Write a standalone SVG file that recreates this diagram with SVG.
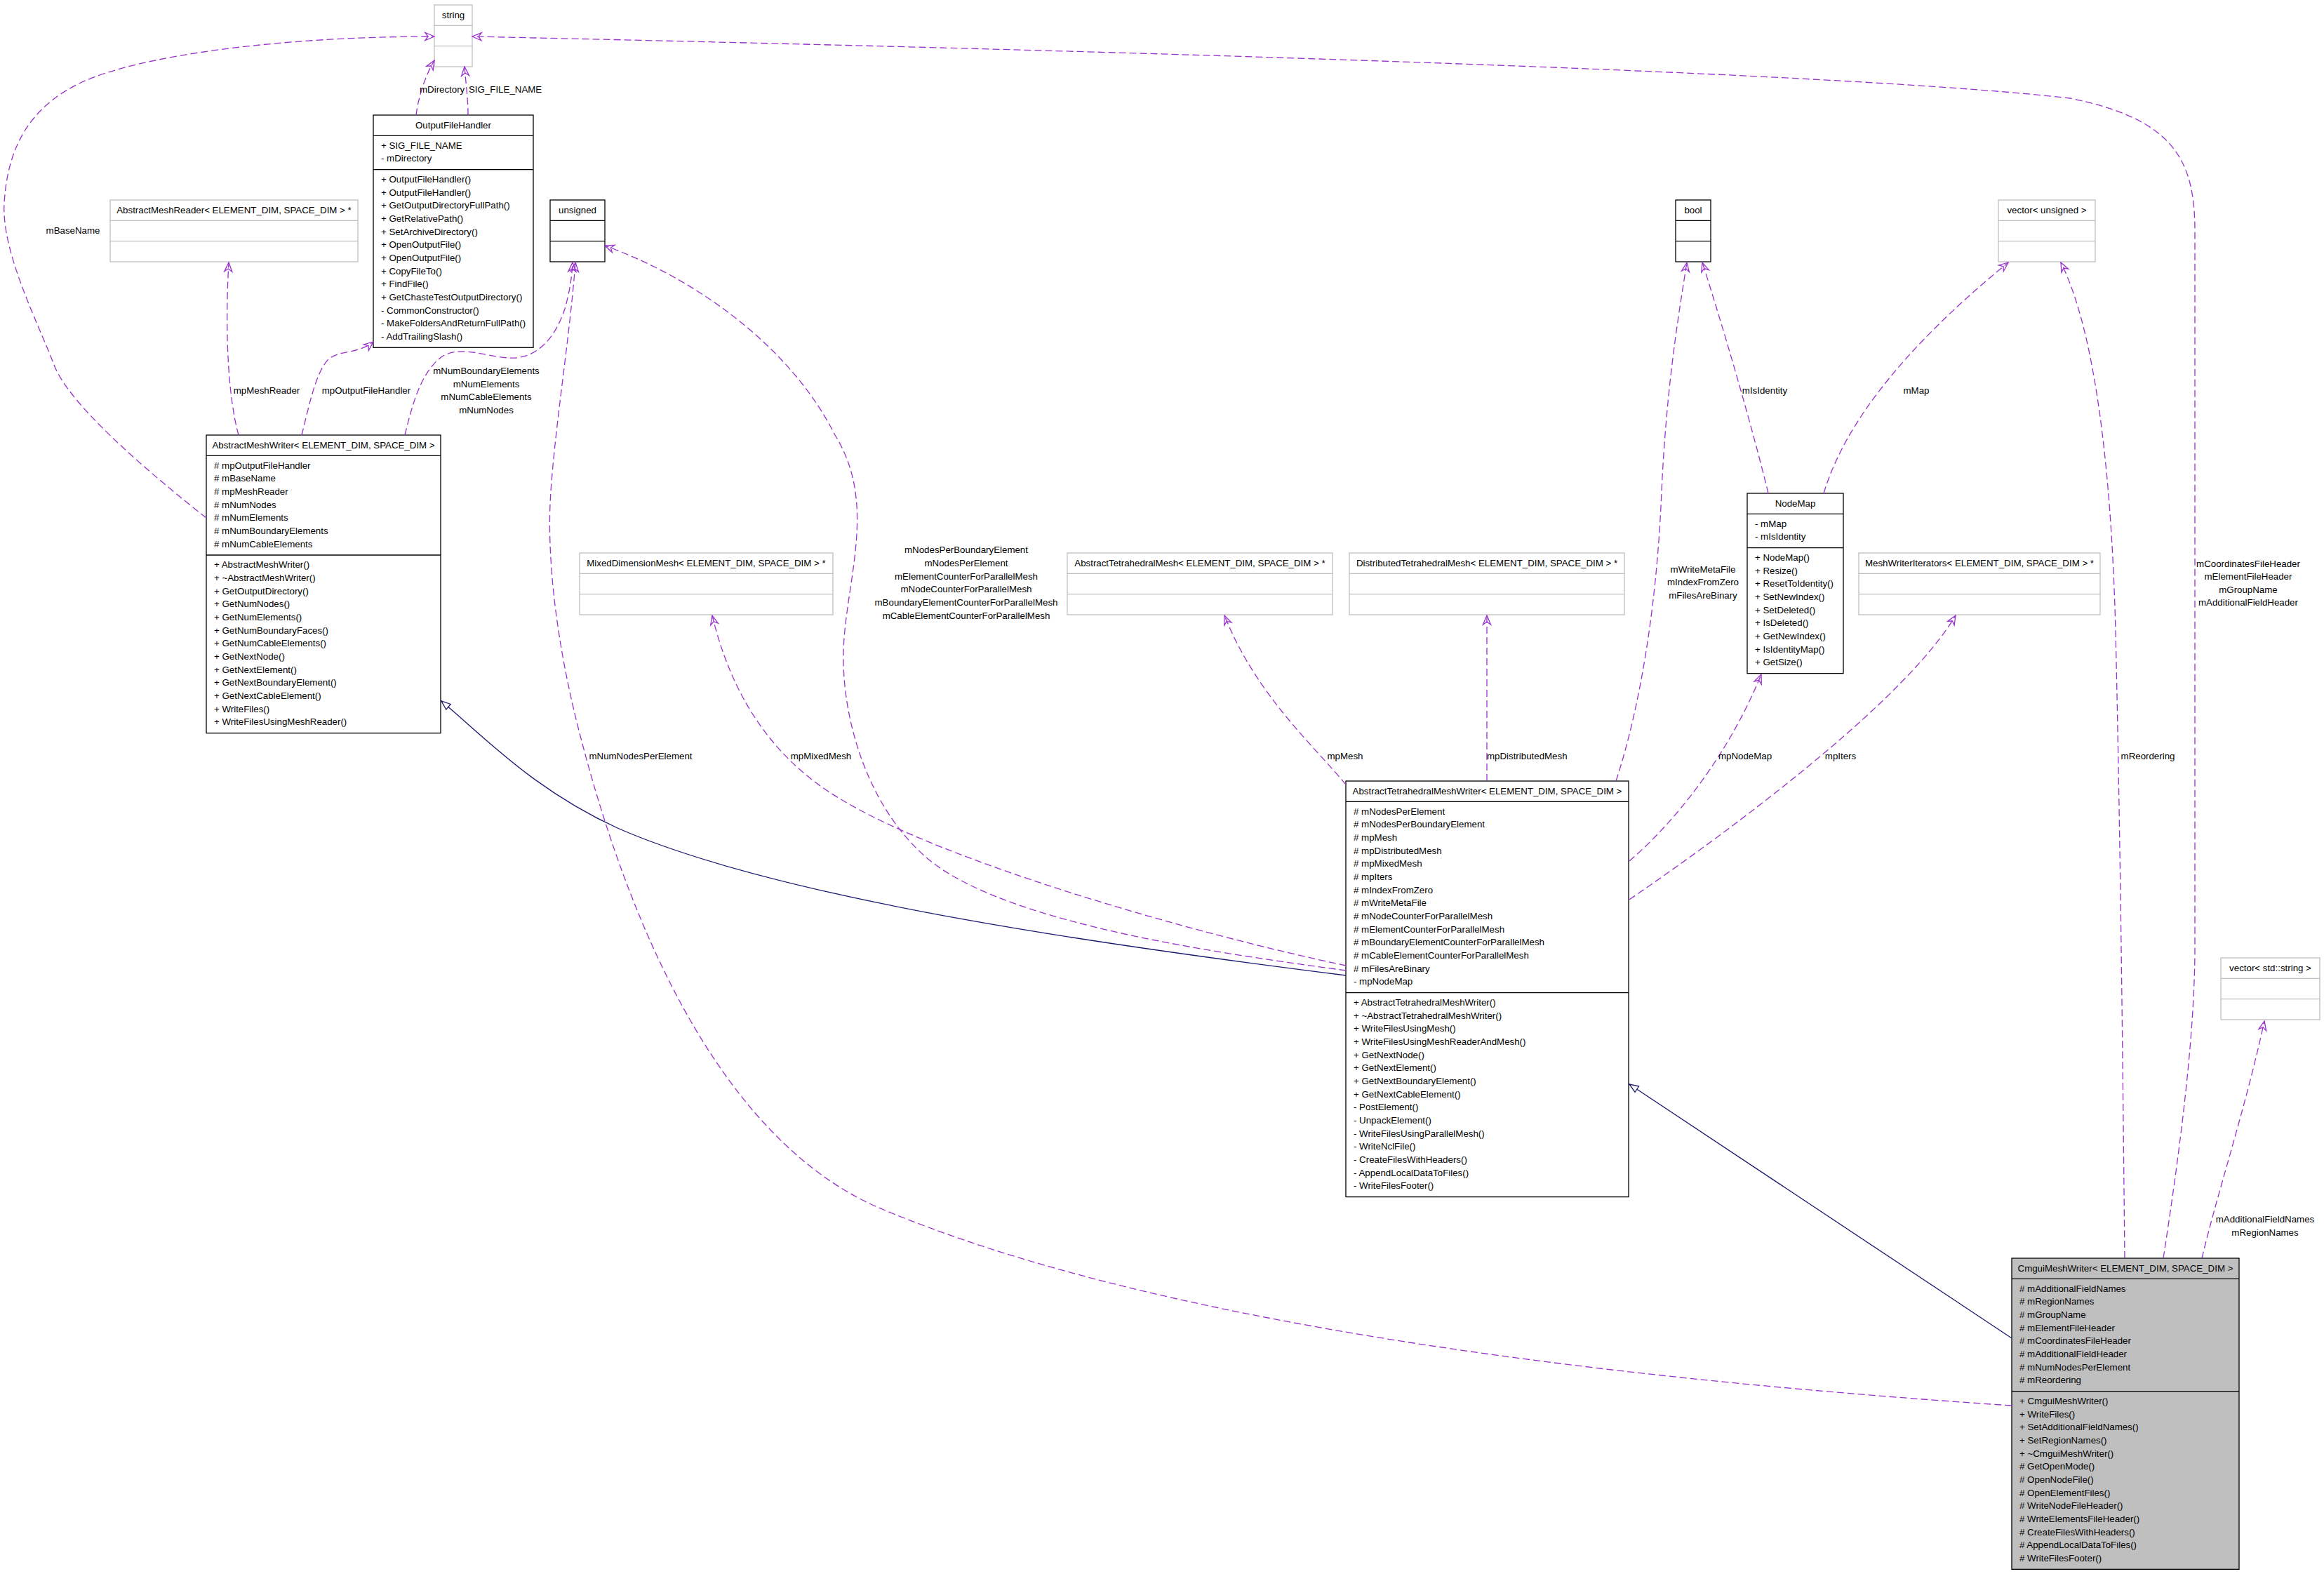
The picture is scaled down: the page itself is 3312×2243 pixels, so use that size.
<svg xmlns="http://www.w3.org/2000/svg" width="3312" height="2243" viewBox="0 0 3312 2243">
<style>
text{font-family:"Liberation Sans",Arial,Helvetica,sans-serif;font-size:13.3px;fill:#000}
.c{text-anchor:middle}
.bk rect{fill:#fff;stroke:#000;stroke-width:1.3}
.bk line{stroke:#000;stroke-width:1.3}
.gr rect{fill:#fff;stroke:#bfbfbf;stroke-width:1.3}
.gr line{stroke:#bfbfbf;stroke-width:1.3}
.cur rect{fill:#bfbfbf;stroke:#000;stroke-width:1.3}
.cur line{stroke:#000;stroke-width:1.3}
.e{fill:none;stroke:#9a32cd;stroke-width:1.3;stroke-dasharray:10,5;marker-end:url(#open)}
.g{fill:none;stroke:#191970;stroke-width:1.3;marker-end:url(#tri)}
</style>
<defs>
<marker id="open" viewBox="-15 -8 17 16" refX="0" refY="0" markerWidth="17" markerHeight="16" markerUnits="userSpaceOnUse" orient="auto">
<path d="M0,0 L-13,-5.5 L-9,0 L-13,5.5 Z" fill="none" stroke="#9a32cd" stroke-width="1.3"/>
</marker>
<marker id="tri" viewBox="-15 -8 17 16" refX="0" refY="0" markerWidth="17" markerHeight="16" markerUnits="userSpaceOnUse" orient="auto">
<path d="M0,0 L-13,-5 L-13,5 Z" fill="#fff" stroke="#191970" stroke-width="1.3"/>
</marker>
</defs>
<rect x="0" y="0" width="3312" height="2243" fill="#fff"/>

<g id="string" class="gr">
<rect x="619" y="7" width="54" height="88"/>
<line x1="619" y1="36.3" x2="673" y2="36.3"/><line x1="619" y1="65.6" x2="673" y2="65.6"/>
<text class="c" x="646" y="25.5">string</text>
</g>

<g id="OutputFileHandler" class="bk">
<rect x="532" y="164" width="228" height="331.3"/>
<line x1="532" y1="193.3" x2="760" y2="193.3"/><line x1="532" y1="241.6" x2="760" y2="241.6"/>
<text class="c" x="646" y="182.5">OutputFileHandler</text>
<text x="543" y="211.6">+ SIG_FILE_NAME</text>
<text x="543" y="230.3">- mDirectory</text>
<text x="543" y="259.9">+ OutputFileHandler()</text>
<text x="543" y="278.6">+ OutputFileHandler()</text>
<text x="543" y="297.2">+ GetOutputDirectoryFullPath()</text>
<text x="543" y="315.9">+ GetRelativePath()</text>
<text x="543" y="334.6">+ SetArchiveDirectory()</text>
<text x="543" y="353.2">+ OpenOutputFile()</text>
<text x="543" y="371.9">+ OpenOutputFile()</text>
<text x="543" y="390.6">+ CopyFileTo()</text>
<text x="543" y="409.2">+ FindFile()</text>
<text x="543" y="427.9">+ GetChasteTestOutputDirectory()</text>
<text x="543" y="446.6">- CommonConstructor()</text>
<text x="543" y="465.2">- MakeFoldersAndReturnFullPath()</text>
<text x="543" y="483.9">- AddTrailingSlash()</text>
</g>

<g id="AbstractMeshReader" class="gr">
<rect x="157" y="285" width="353" height="88"/>
<line x1="157" y1="314.3" x2="510" y2="314.3"/><line x1="157" y1="343.6" x2="510" y2="343.6"/>
<text class="c" x="333.5" y="303.5">AbstractMeshReader&lt; ELEMENT_DIM, SPACE_DIM &gt; *</text>
</g>

<g id="unsigned" class="bk">
<rect x="784" y="285" width="78" height="88"/>
<line x1="784" y1="314.3" x2="862" y2="314.3"/><line x1="784" y1="343.6" x2="862" y2="343.6"/>
<text class="c" x="823" y="303.5">unsigned</text>
</g>

<g id="bool" class="bk">
<rect x="2388" y="285" width="50" height="88"/>
<line x1="2388" y1="314.3" x2="2438" y2="314.3"/><line x1="2388" y1="343.6" x2="2438" y2="343.6"/>
<text class="c" x="2413" y="303.5">bool</text>
</g>

<g id="vector_unsigned" class="gr">
<rect x="2848" y="285" width="138" height="88"/>
<line x1="2848" y1="314.3" x2="2986" y2="314.3"/><line x1="2848" y1="343.6" x2="2986" y2="343.6"/>
<text class="c" x="2917" y="303.5">vector&lt; unsigned &gt;</text>
</g>

<g id="MixedDimensionMesh" class="gr">
<rect x="826" y="788" width="361" height="88"/>
<line x1="826" y1="817.3" x2="1187" y2="817.3"/><line x1="826" y1="846.6" x2="1187" y2="846.6"/>
<text class="c" x="1006.5" y="806.5">MixedDimensionMesh&lt; ELEMENT_DIM, SPACE_DIM &gt; *</text>
</g>

<g id="AbstractTetrahedralMesh" class="gr">
<rect x="1521" y="788" width="378" height="88"/>
<line x1="1521" y1="817.3" x2="1899" y2="817.3"/><line x1="1521" y1="846.6" x2="1899" y2="846.6"/>
<text class="c" x="1710" y="806.5">AbstractTetrahedralMesh&lt; ELEMENT_DIM, SPACE_DIM &gt; *</text>
</g>

<g id="DistributedTetrahedralMesh" class="gr">
<rect x="1923" y="788" width="392" height="88"/>
<line x1="1923" y1="817.3" x2="2315" y2="817.3"/><line x1="1923" y1="846.6" x2="2315" y2="846.6"/>
<text class="c" x="2119" y="806.5">DistributedTetrahedralMesh&lt; ELEMENT_DIM, SPACE_DIM &gt; *</text>
</g>

<g id="MeshWriterIterators" class="gr">
<rect x="2649" y="788" width="344" height="88"/>
<line x1="2649" y1="817.3" x2="2993" y2="817.3"/><line x1="2649" y1="846.6" x2="2993" y2="846.6"/>
<text class="c" x="2821" y="806.5">MeshWriterIterators&lt; ELEMENT_DIM, SPACE_DIM &gt; *</text>
</g>

<g id="vector_std_string" class="gr">
<rect x="3165" y="1365" width="141" height="88"/>
<line x1="3165" y1="1394.3" x2="3306" y2="1394.3"/><line x1="3165" y1="1423.6" x2="3306" y2="1423.6"/>
<text class="c" x="3235.5" y="1383.5">vector&lt; std::string &gt;</text>
</g>

<g id="NodeMap" class="bk">
<rect x="2490" y="703" width="137" height="256.6"/>
<line x1="2490" y1="732.3" x2="2627" y2="732.3"/><line x1="2490" y1="780.6" x2="2627" y2="780.6"/>
<text class="c" x="2558.5" y="721.5">NodeMap</text>
<text x="2501" y="750.6">- mMap</text>
<text x="2501" y="769.3">- mIsIdentity</text>
<text x="2501" y="798.9">+ NodeMap()</text>
<text x="2501" y="817.6">+ Resize()</text>
<text x="2501" y="836.2">+ ResetToIdentity()</text>
<text x="2501" y="854.9">+ SetNewIndex()</text>
<text x="2501" y="873.6">+ SetDeleted()</text>
<text x="2501" y="892.2">+ IsDeleted()</text>
<text x="2501" y="910.9">+ GetNewIndex()</text>
<text x="2501" y="929.6">+ IsIdentityMap()</text>
<text x="2501" y="948.2">+ GetSize()</text>
</g>

<g id="AbstractMeshWriter" class="bk">
<rect x="294" y="620" width="334" height="424.7"/>
<line x1="294" y1="649.3" x2="628" y2="649.3"/><line x1="294" y1="791" x2="628" y2="791"/>
<text class="c" x="461" y="638.5">AbstractMeshWriter&lt; ELEMENT_DIM, SPACE_DIM &gt;</text>
<text x="305" y="667.6"># mpOutputFileHandler</text>
<text x="305" y="686.3"># mBaseName</text>
<text x="305" y="704.9"># mpMeshReader</text>
<text x="305" y="723.6"># mNumNodes</text>
<text x="305" y="742.3"># mNumElements</text>
<text x="305" y="760.9"># mNumBoundaryElements</text>
<text x="305" y="779.6"># mNumCableElements</text>
<text x="305" y="809.3">+ AbstractMeshWriter()</text>
<text x="305" y="828.0">+ ~AbstractMeshWriter()</text>
<text x="305" y="846.6">+ GetOutputDirectory()</text>
<text x="305" y="865.3">+ GetNumNodes()</text>
<text x="305" y="884.0">+ GetNumElements()</text>
<text x="305" y="902.6">+ GetNumBoundaryFaces()</text>
<text x="305" y="921.3">+ GetNumCableElements()</text>
<text x="305" y="940.0">+ GetNextNode()</text>
<text x="305" y="958.6">+ GetNextElement()</text>
<text x="305" y="977.3">+ GetNextBoundaryElement()</text>
<text x="305" y="996.0">+ GetNextCableElement()</text>
<text x="305" y="1014.6">+ WriteFiles()</text>
<text x="305" y="1033.3">+ WriteFilesUsingMeshReader()</text>
</g>

<g id="AbstractTetrahedralMeshWriter" class="bk">
<rect x="1918" y="1113" width="403" height="592.6"/>
<line x1="1918" y1="1142.3" x2="2321" y2="1142.3"/><line x1="1918" y1="1414.6" x2="2321" y2="1414.6"/>
<text class="c" x="2119.5" y="1131.5">AbstractTetrahedralMeshWriter&lt; ELEMENT_DIM, SPACE_DIM &gt;</text>
<text x="1929" y="1160.6"># mNodesPerElement</text>
<text x="1929" y="1179.3"># mNodesPerBoundaryElement</text>
<text x="1929" y="1197.9"># mpMesh</text>
<text x="1929" y="1216.6"># mpDistributedMesh</text>
<text x="1929" y="1235.3"># mpMixedMesh</text>
<text x="1929" y="1253.9"># mpIters</text>
<text x="1929" y="1272.6"># mIndexFromZero</text>
<text x="1929" y="1291.3"># mWriteMetaFile</text>
<text x="1929" y="1309.9"># mNodeCounterForParallelMesh</text>
<text x="1929" y="1328.6"># mElementCounterForParallelMesh</text>
<text x="1929" y="1347.3"># mBoundaryElementCounterForParallelMesh</text>
<text x="1929" y="1365.9"># mCableElementCounterForParallelMesh</text>
<text x="1929" y="1384.6"># mFilesAreBinary</text>
<text x="1929" y="1403.3">- mpNodeMap</text>
<text x="1929" y="1432.9">+ AbstractTetrahedralMeshWriter()</text>
<text x="1929" y="1451.6">+ ~AbstractTetrahedralMeshWriter()</text>
<text x="1929" y="1470.2">+ WriteFilesUsingMesh()</text>
<text x="1929" y="1488.9">+ WriteFilesUsingMeshReaderAndMesh()</text>
<text x="1929" y="1507.6">+ GetNextNode()</text>
<text x="1929" y="1526.2">+ GetNextElement()</text>
<text x="1929" y="1544.9">+ GetNextBoundaryElement()</text>
<text x="1929" y="1563.6">+ GetNextCableElement()</text>
<text x="1929" y="1582.2">- PostElement()</text>
<text x="1929" y="1600.9">- UnpackElement()</text>
<text x="1929" y="1619.6">- WriteFilesUsingParallelMesh()</text>
<text x="1929" y="1638.2">- WriteNclFile()</text>
<text x="1929" y="1656.9">- CreateFilesWithHeaders()</text>
<text x="1929" y="1675.6">- AppendLocalDataToFiles()</text>
<text x="1929" y="1694.2">- WriteFilesFooter()</text>
</g>

<g id="CmguiMeshWriter" class="cur">
<rect x="2867" y="1793" width="324" height="443.3"/>
<line x1="2867" y1="1822.3" x2="3191" y2="1822.3"/><line x1="2867" y1="1982.6" x2="3191" y2="1982.6"/>
<text class="c" x="3029" y="1811.5">CmguiMeshWriter&lt; ELEMENT_DIM, SPACE_DIM &gt;</text>
<text x="2878" y="1840.6"># mAdditionalFieldNames</text>
<text x="2878" y="1859.3"># mRegionNames</text>
<text x="2878" y="1877.9"># mGroupName</text>
<text x="2878" y="1896.6"># mElementFileHeader</text>
<text x="2878" y="1915.3"># mCoordinatesFileHeader</text>
<text x="2878" y="1933.9"># mAdditionalFieldHeader</text>
<text x="2878" y="1952.6"># mNumNodesPerElement</text>
<text x="2878" y="1971.3"># mReordering</text>
<text x="2878" y="2000.9">+ CmguiMeshWriter()</text>
<text x="2878" y="2019.6">+ WriteFiles()</text>
<text x="2878" y="2038.2">+ SetAdditionalFieldNames()</text>
<text x="2878" y="2056.9">+ SetRegionNames()</text>
<text x="2878" y="2075.6">+ ~CmguiMeshWriter()</text>
<text x="2878" y="2094.2"># GetOpenMode()</text>
<text x="2878" y="2112.9"># OpenNodeFile()</text>
<text x="2878" y="2131.6"># OpenElementFiles()</text>
<text x="2878" y="2150.2"># WriteNodeFileHeader()</text>
<text x="2878" y="2168.9"># WriteElementsFileHeader()</text>
<text x="2878" y="2187.6"># CreateFilesWithHeaders()</text>
<text x="2878" y="2206.2"># AppendLocalDataToFiles()</text>
<text x="2878" y="2224.9"># WriteFilesFooter()</text>
</g>

<g id="connectors">
<path class="e" d="M294,738 C210,672 98,576 77,520 S2,360 6,290 S35,155 117,117 S400,52 619,52"/>
<text class="c" x="104" y="332.5">mBaseName</text>
<path class="e" d="M593,164 C596,140 605,110 619,86"/>
<text x="598" y="132">mDirectory</text>
<path class="e" d="M667,164 C667,140 664,120 662,95"/>
<text x="668" y="132">SIG_FILE_NAME</text>
<path class="e" d="M340,620 C326,570 320,480 326,374"/>
<text class="c" x="380" y="561">mpMeshReader</text>
<path class="e" d="M430,620 C440,580 450,530 468,512 C485,498 510,505 532,487"/>
<text class="c" x="522" y="561">mpOutputFileHandler</text>
<path class="e" d="M577,620 C588,575 600,530 630,508 C660,490 700,512 735,510 C775,506 795,470 805,440 C812,415 815,395 816,374"/>
<text class="c" x="693" y="533">mNumBoundaryElements</text>
<text class="c" x="693" y="551.5">mNumElements</text>
<text class="c" x="693" y="570">mNumCableElements</text>
<text class="c" x="693" y="589">mNumNodes</text>
<path class="e" d="M2867,2003 C2300,1965 1650,1890 1250,1720 C1000,1610 880,1250 830,1060 C795,930 778,800 785,700 C792,600 812,480 820,374"/>
<text class="c" x="913" y="1082">mNumNodesPerElement</text>
<path class="e" d="M1918,1383 C1750,1360 1450,1320 1330,1230 C1240,1160 1200,1030 1202,930 C1204,830 1252,720 1190,620 C1130,500 1000,400 862,350"/>
<text class="c" x="1377" y="788">mNodesPerBoundaryElement</text>
<text class="c" x="1377" y="806.5">mNodesPerElement</text>
<text class="c" x="1377" y="825.5">mElementCounterForParallelMesh</text>
<text class="c" x="1377" y="844">mNodeCounterForParallelMesh</text>
<text class="c" x="1377" y="862.5">mBoundaryElementCounterForParallelMesh</text>
<text class="c" x="1377" y="881.5">mCableElementCounterForParallelMesh</text>
<path class="e" d="M1918,1376 C1700,1330 1350,1230 1200,1140 C1080,1070 1035,960 1015,877"/>
<text class="c" x="1170" y="1082">mpMixedMesh</text>
<path class="g" d="M1918,1390 C1600,1350 1120,1285 880,1180 C760,1125 690,1050 629,999"/>
<path class="e" d="M1918,1118 C1870,1060 1790,990 1745,877"/>
<text class="c" x="1917" y="1082">mpMesh</text>
<path class="e" d="M2119,1113 L2119,877"/>
<text x="2119" y="1082">mpDistributedMesh</text>
<path class="e" d="M2303,1113 C2340,1000 2362,850 2368,700 C2375,550 2392,450 2404,374"/>
<text class="c" x="2427" y="815.5">mWriteMetaFile</text>
<text class="c" x="2427" y="834">mIndexFromZero</text>
<text class="c" x="2427" y="852.5">mFilesAreBinary</text>
<path class="e" d="M2520,703 C2500,620 2460,480 2426,374"/>
<text class="c" x="2515" y="561">mIsIdentity</text>
<path class="e" d="M2599,703 C2630,600 2720,490 2862,374"/>
<text class="c" x="2731" y="561">mMap</text>
<path class="e" d="M2322,1227 C2400,1160 2470,1060 2510,961"/>
<text class="c" x="2487" y="1082">mpNodeMap</text>
<path class="e" d="M2322,1282 C2500,1160 2720,990 2787,877"/>
<text class="c" x="2623" y="1082">mpIters</text>
<path class="e" d="M3028,1793 C3025,1500 3022,1200 3015,900 C3010,700 2990,480 2937,374"/>
<text class="c" x="3061" y="1082">mReordering</text>
<path class="e" d="M3083,1793 C3105,1650 3128,1480 3128,1350 L3128,330 C3128,230 3100,170 2950,140 C2600,100 1500,70 673,52"/>
<text class="c" x="3204" y="807.5">mCoordinatesFileHeader</text>
<text class="c" x="3204" y="826">mElementFileHeader</text>
<text class="c" x="3204" y="844.5">mGroupName</text>
<text class="c" x="3204" y="863">mAdditionalFieldHeader</text>
<path class="e" d="M3138,1793 C3160,1700 3200,1580 3227,1455"/>
<text class="c" x="3228" y="1742">mAdditionalFieldNames</text>
<text class="c" x="3228" y="1760.5">mRegionNames</text>
<path class="g" d="M2867,1907 L2322,1545"/>
</g>
</svg>
